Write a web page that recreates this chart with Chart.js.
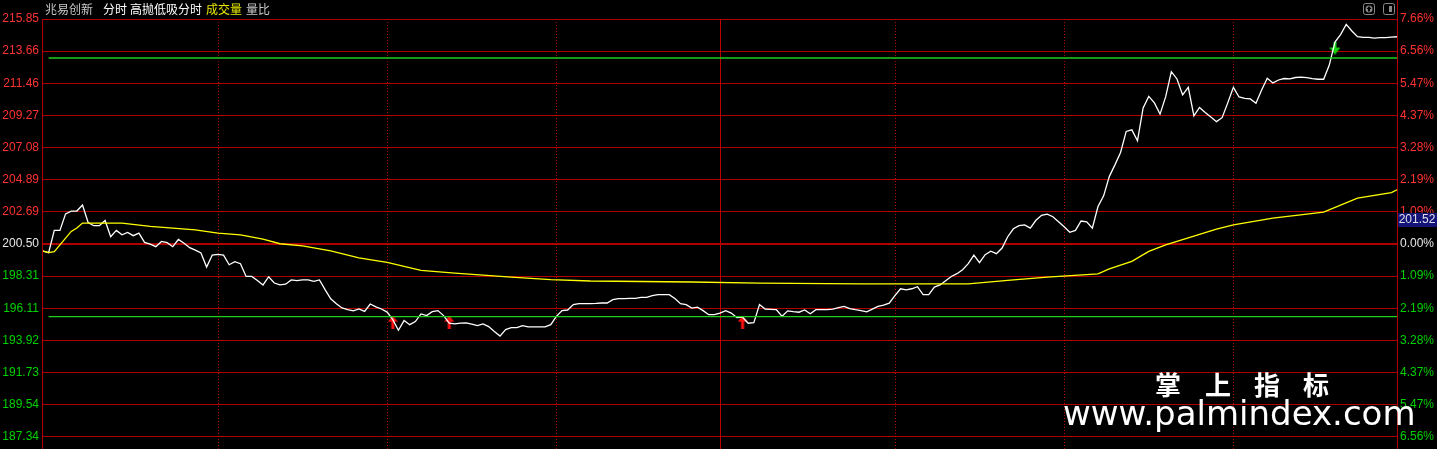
<!DOCTYPE html>
<html>
<head>
<meta charset="utf-8">
<script src="https://cdn.jsdelivr.net/npm/chart.js@4"></script>
<style>
  html, body { margin: 0; padding: 0; background: #000; overflow: hidden; }
  #box { width: 1437px; height: 449px; position: relative; }
</style>
</head>
<body>
<div id="box"><canvas id="grafico"></canvas></div>
<script>
// DADOS (minuto 0..240, preço)
const precos = [
  200.02, 199.91, 201.43, 201.43, 202.56, 202.75, 202.75, 203.16, 201.97, 201.75,
  201.75, 202.11, 201.00, 201.43, 201.13, 201.29, 201.07, 201.25, 200.61, 200.49,
  200.32, 200.68, 200.59, 200.32, 200.81, 200.55, 200.25, 200.08, 199.89, 198.93,
  199.75, 199.79, 199.74, 199.09, 199.30, 199.16, 198.29, 198.29, 198.02, 197.71,
  198.27, 197.84, 197.71, 197.76, 198.05, 198.01, 198.05, 198.05, 197.95, 198.05,
  197.39, 196.77, 196.43, 196.14, 196.03, 195.94, 196.07, 195.91, 196.41, 196.21,
  196.07, 195.86, 195.34, 194.62, 195.28, 195.00, 195.21, 195.73, 195.62, 195.89,
  195.96, 195.62, 195.11, 195.05, 195.11, 195.12, 195.04, 194.94, 195.05, 194.87,
  194.53, 194.22, 194.66, 194.80, 194.80, 194.94, 194.85, 194.85, 194.85, 194.85,
  195.00, 195.57, 195.96, 196.00, 196.37, 196.43, 196.43, 196.43, 196.45, 196.48,
  196.48, 196.71, 196.78, 196.78, 196.80, 196.80, 196.86, 196.86, 196.98, 197.05,
  197.05, 197.05, 196.78, 196.43, 196.37, 196.13, 196.20, 195.96, 195.68, 195.68,
  195.79, 195.96, 195.79, 195.48, 195.51, 195.10, 195.14, 196.37, 196.07, 196.05,
  196.02, 195.57, 195.94, 195.89, 195.85, 196.00, 195.75, 196.02, 196.02, 196.02,
  196.06, 196.16, 196.25, 196.09, 196.02, 195.96, 195.87, 196.06, 196.25, 196.33,
  196.47, 196.98, 197.45, 197.37, 197.45, 197.59, 197.05, 197.05, 197.56, 197.71,
  198.00, 198.29, 198.48, 198.75, 199.16, 199.75, 199.23, 199.77, 200.01, 199.84,
  200.23, 201.00, 201.54, 201.75, 201.81, 201.59, 202.12, 202.46, 202.54, 202.36,
  202.02, 201.68, 201.30, 201.43, 202.07, 202.02, 201.59, 203.06, 203.79, 205.10,
  205.90, 206.75, 208.18, 208.29, 207.54, 209.78, 210.57, 210.13, 209.36, 210.55,
  212.26, 211.76, 210.67, 211.19, 209.24, 209.82, 209.48, 209.17, 208.85, 209.12,
  210.13, 211.19, 210.53, 210.43, 210.40, 210.10, 211.01, 211.81, 211.49, 211.69,
  211.79, 211.76, 211.86, 211.88, 211.85, 211.79, 211.74, 211.74, 212.71, 214.28,
  214.79, 215.48, 215.03, 214.65, 214.60, 214.60, 214.55, 214.58, 214.58, 214.61, 214.64
];

// PREÇO MÉDIO (linha amarela)
const mediaMinutos = [0, 1, 2, 5, 6, 7, 14, 19, 27, 31, 35, 39, 42, 46, 51, 56, 61, 67, 73, 83,
  90, 97, 115, 127, 145, 164, 171, 178, 187, 189, 193, 196, 199, 208, 211, 218, 227, 233, 239, 240];
const mediaPrecos = [200.02, 199.91, 199.98, 201.36, 201.59, 201.93, 201.93, 201.70, 201.47, 201.25,
  201.13, 200.84, 200.52, 200.38, 200.04, 199.55, 199.25, 198.70, 198.52, 198.25,
  198.07, 197.98, 197.91, 197.84, 197.78, 197.78, 198.02, 198.25, 198.46, 198.80,
  199.32, 200.00, 200.45, 201.52, 201.81, 202.27, 202.68, 203.63, 204.01, 204.20];

// LINHAS VERDES
const linhaAlta = 213.19;
const linhaBaixa = 195.55;

// SINAIS
const compraMinutos = [62, 72, 124];
const compraPrecos = [195.17, 195.17, 195.17];
const vendaMinutos = [229];
const vendaPrecos = [213.87];

// EIXOS
const ticksPreco = [215.85, 213.66, 211.46, 209.27, 207.08, 204.89, 202.69, 200.50,
  198.31, 196.11, 193.92, 191.73, 189.54, 187.34];
const ticksPct = ['7.66%', '6.56%', '5.47%', '4.37%', '3.28%', '2.19%', '1.09%', '0.00%',
  '1.09%', '2.19%', '3.28%', '4.37%', '5.47%', '6.56%'];
const precoBase = 200.50;
const minutosGrade = [31, 61, 91, 120, 151, 181, 211];
const etiquetaDireita = '201.52';

const VERMELHO = '#ff3232';
const VERDE = '#00d200';
const GRADE = '#b00000';

function corTick(ctx) {
  if (ctx.index < 7) return VERMELHO;
  if (ctx.index === 7) return '#e8e8e8';
  return VERDE;
}

// SETAS
function setaCima(cor) {
  const c = document.createElement('canvas');
  c.width = 10; c.height = 13;
  const g = c.getContext('2d');
  g.fillStyle = cor;
  g.beginPath();
  g.moveTo(5, 0); g.lineTo(10, 6); g.lineTo(0, 6);
  g.closePath(); g.fill();
  g.fillRect(3.5, 5, 3, 8);
  return c;
}
function setaBaixo(cor) {
  const c = document.createElement('canvas');
  c.width = 11; c.height = 13;
  const g = c.getContext('2d');
  g.fillStyle = cor;
  g.fillRect(4, 0, 3, 7);
  g.beginPath();
  g.moveTo(0, 6); g.lineTo(11, 6); g.lineTo(5.5, 13);
  g.closePath(); g.fill();
  return c;
}

// PLUGINS
const fundo = {
  id: 'fundo',
  beforeDraw(chart) {
    const ctx = chart.ctx;
    ctx.save();
    ctx.fillStyle = '#000';
    ctx.fillRect(0, 0, chart.width, chart.height);
    ctx.restore();
  },
  beforeDatasetsDraw(chart) {
    const { ctx, chartArea, scales } = chart;
    ctx.save();
    ctx.lineWidth = 1;
    minutosGrade.forEach(m => {
      const x = Math.round(scales.x.getPixelForValue(m)) + 0.5;
      ctx.setLineDash(m === 120 ? [] : [1, 2]);
      ctx.strokeStyle = m === 120 ? '#c00000' : GRADE;
      ctx.beginPath();
      ctx.moveTo(x, chartArea.top);
      ctx.lineTo(x, chart.height);
      ctx.stroke();
    });
    ctx.setLineDash([]);
    ctx.strokeStyle = GRADE;
    const xd = Math.round(chartArea.right) + 0.5;
    ctx.beginPath();
    ctx.moveTo(xd, 0);
    ctx.lineTo(xd, chart.height);
    ctx.stroke();
    const xe = Math.round(chartArea.left) - 0.5;
    ctx.beginPath();
    ctx.moveTo(xe, chartArea.top);
    ctx.lineTo(xe, chart.height);
    ctx.stroke();
    ctx.restore();
  },
  afterDraw(chart) {
    const ctx = chart.ctx;
    ctx.save();

    // TITULO
    ctx.font = '12px "Noto Sans CJK SC"';
    ctx.textBaseline = 'middle';
    const titulo = [
      ['兆易创新', 45, '#c8c8c8'],
      ['分时', 103, '#ffffff'],
      ['高抛低吸分时', 130, '#ffffff'],
      ['成交量', 206, '#e6e600'],
      ['量比', 246, '#c8c8c8']
    ];
    titulo.forEach(t => {
      ctx.fillStyle = t[2];
      ctx.fillText(t[0], t[1], 9);
    });

    // ICONES
    ctx.strokeStyle = '#8a8a8a';
    ctx.fillStyle = '#8a8a8a';
    ctx.lineWidth = 1;
    ctx.beginPath();
    ctx.roundRect(1363.5, 3.5, 11, 11, 2);
    ctx.stroke();
    ctx.beginPath();
    ctx.arc(1369, 9, 3.5, 0, Math.PI * 2);
    ctx.fill();
    ctx.fillStyle = '#000';
    ctx.beginPath();
    ctx.moveTo(1369, 6); ctx.lineTo(1371.5, 9); ctx.lineTo(1366.5, 9);
    ctx.closePath(); ctx.fill();
    ctx.fillRect(1368, 9, 2, 2.5);
    ctx.fillStyle = '#8a8a8a';
    ctx.beginPath();
    ctx.roundRect(1383.5, 3.5, 11, 11, 2);
    ctx.stroke();
    ctx.fillRect(1389, 6, 3, 6);

    // ETIQUETA
    ctx.fillStyle = '#141478';
    ctx.fillRect(1398, 213, 39, 14);
    ctx.fillStyle = '#e0e0e8';
    ctx.font = '12px "Liberation Sans"';
    ctx.textAlign = 'center';
    ctx.fillText(etiquetaDireita, 1417, 220);

    // MARCA D'AGUA
    ctx.fillStyle = '#ffffff';
    ctx.font = 'bold 26px "Noto Sans CJK SC"';
    ctx.textBaseline = 'middle';
    ['掌', '上', '指', '标'].forEach((c, i) => {
      ctx.fillText(c, [1168, 1218, 1267, 1316][i], 385);
    });
    ctx.font = '34px "DejaVu Sans"';
    ctx.textAlign = 'left';
    ctx.textBaseline = 'alphabetic';
    ctx.fillText('www.palmindex.com', 1063, 425);
    ctx.restore();
  }
};

// GRAFICO
const pontos = precos.map((v, i) => ({ x: i, y: v }));
const media = mediaMinutos.map((m, i) => ({ x: m, y: mediaPrecos[i] }));

const fonteTick = { family: '"Liberation Sans"', size: 12 };

new Chart(document.getElementById('grafico'), {
  type: 'line',
  data: {
    datasets: [
      {
        data: [{ x: 1, y: linhaAlta }, { x: 240, y: linhaAlta }],
        borderColor: '#1ecf1e', borderWidth: 1.3, pointRadius: 0
      },
      {
        data: [{ x: 1, y: linhaBaixa }, { x: 240, y: linhaBaixa }],
        borderColor: '#1ecf1e', borderWidth: 1.3, pointRadius: 0
      },
      {
        data: media,
        borderColor: '#ffff00', borderWidth: 1.3, pointRadius: 0
      },
      {
        data: pontos,
        borderColor: '#ffffff', borderWidth: 1.3, pointRadius: 0
      },
      {
        data: compraMinutos.map((m, i) => ({ x: m, y: compraPrecos[i] })),
        showLine: false, pointStyle: setaCima('#ff1010'), pointRadius: 6
      },
      {
        data: vendaMinutos.map((m, i) => ({ x: m, y: vendaPrecos[i] })),
        showLine: false, pointStyle: setaBaixo('#10d010'), pointRadius: 6
      }
    ]
  },
  options: {
    responsive: true,
    maintainAspectRatio: false,
    animation: false,
    layout: { autoPadding: false, padding: { top: 19, bottom: 0, left: 0, right: 0 } },
    plugins: { legend: { display: false }, tooltip: { enabled: false } },
    elements: { line: { tension: 0 } },
    scales: {
      x: { type: 'linear', min: 0, max: 240, display: false },
      y: {
        position: 'left',
        min: 186.52,
        max: 215.85,
        afterBuildTicks: s => { s.ticks = ticksPreco.map(v => ({ value: v })); },
        afterFit: s => { s.width = 43; s.paddingTop = 0; s.paddingBottom = 0; },
        ticks: {
          autoSkip: false,
          padding: 4,
          color: corTick,
          font: fonteTick,
          callback: v => v.toFixed(2)
        },
        grid: {
          color: GRADE,
          lineWidth: c => (c.tick && c.tick.value === precoBase ? 2 : 1),
          drawTicks: false
        },
        border: { display: false }
      },
      y1: {
        position: 'right',
        min: 186.52,
        max: 215.85,
        afterBuildTicks: s => { s.ticks = ticksPreco.map(v => ({ value: v })); },
        afterFit: s => { s.width = 40; s.paddingTop = 0; s.paddingBottom = 0; },
        ticks: {
          autoSkip: false,
          padding: 3,
          color: corTick,
          font: fonteTick,
          callback: (v, i) => ticksPct[i]
        },
        grid: { display: false, drawTicks: false },
        border: { display: false }
      }
    }
  },
  plugins: [fundo]
});
</script>
</body>
</html>
